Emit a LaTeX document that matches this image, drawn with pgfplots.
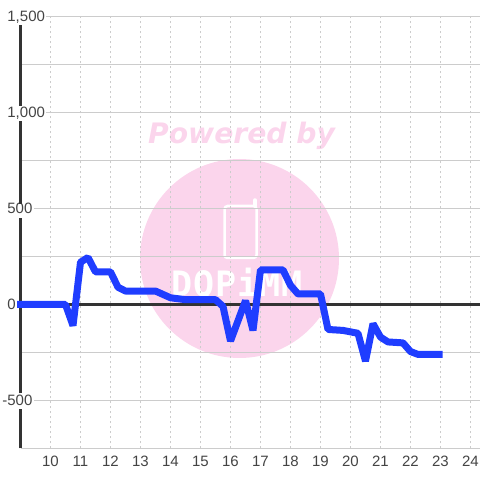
\documentclass[border=0pt]{standalone}
\usepackage{fontspec}
\usepackage{pgfplots}
\pgfplotsset{compat=1.18}
\setmainfont{Liberation Sans}
\newfontfamily\wmfont{DejaVu Sans}
\newfontfamily\logofont[LetterSpace=3]{DejaVu Sans Mono}
\definecolor{axisdark}{HTML}{333333}
\definecolor{gridgrey}{HTML}{CCCCCC}
\definecolor{labelgrey}{HTML}{444444}
\definecolor{seriesblue}{HTML}{1F3DFF}
\definecolor{wmpink}{HTML}{FBD5EC}
\begin{document}
\begin{tikzpicture}[x=1pt,y=1pt]
  \path[use as bounding box] (0,0) rectangle (480,480);
  % watermark, behind the axis
  \fill[wmpink] (239.5,221.5) circle (99.5);
  \node[anchor=base west,inner sep=0,text=wmpink] at (148,336)
    {\fontsize{28.2}{30}\wmfont\bfseries\itshape Powered by};
  \draw[white,line width=2.5,rounded corners=3] (224.5,222) rectangle (256.5,274);
  \draw[white,line width=3.5,line cap=round] (255,274) -- (255,280);
  \node[anchor=base west,inner sep=0,text=white] at (171,183)
    {\fontsize{35}{37}\logofont\bfseries DQPiMM};
  \begin{axis}[
    at={(20.5pt,31.5pt)}, anchor=south west,
    scale only axis, width=459.5pt, height=432pt,
    xmin=9, xmax=24.3167, ymin=-750, ymax=1500,
    axis line style={draw=none},
    clip=false,
    xtick={10,...,24},
    ytick={-500,0,500,1000,1500},
    minor ytick={-750,-250,250,750,1250},
    yticklabels={\hspace{-5pt}-500,0,500,{1,000},{1,500}},
    major tick length=0pt, minor tick length=0pt,
    xmajorgrids, ymajorgrids, yminorgrids,
    x grid style={gridgrey,line width=1pt,dash pattern=on 2pt off 3pt},
    y grid style={gridgrey,line width=1pt},
    minor y grid style={gridgrey,line width=1pt},
    tick label style={font=\fontsize{15}{16}\selectfont,text=labelgrey},
    /pgf/number format/assume math mode=true,
    x tick label style={anchor=base,yshift=-18pt,inner sep=0pt},
    y tick label style={anchor=west,xshift=-14.5pt,fill=white,inner xsep=1.2pt,inner ysep=1.5pt,
      text height=11pt,text depth=1.5pt},
  ]
    % left axis, broken where the tick labels sit on it
    \draw[axisdark,line width=3pt] (axis cs:9,-750) -- (axis cs:9,-542);
    \draw[axisdark,line width=3pt] (axis cs:9,-463) -- (axis cs:9,453);
    \draw[axisdark,line width=3pt] (axis cs:9,526) -- (axis cs:9,958);
    \draw[axisdark,line width=3pt] (axis cs:9,1036) -- (axis cs:9,1458);
    \draw[axisdark,line width=3pt] (axis cs:9,0) -- (axis cs:24.3167,0);
    \addplot[seriesblue,line width=7pt,line join=bevel,line cap=rect] coordinates {
      (9,0) (10.5,0) (10.75,-110) (11,220) (11.25,245) (11.5,170) (12,170)
      (12.25,90) (12.5,70) (13.5,70) (14,35) (14.5,25) (15.5,25) (15.75,-10)
      (16,-190) (16.5,20) (16.75,-135) (17,180) (17.75,180) (18,100) (18.25,55)
      (19,55) (19.25,-130) (19.75,-135) (20.25,-150) (20.5,-295) (20.75,-100)
      (21,-170) (21.25,-195) (21.75,-200) (22,-245) (22.25,-260) (22.95,-260)
    };
  \end{axis}
\end{tikzpicture}
\end{document}
